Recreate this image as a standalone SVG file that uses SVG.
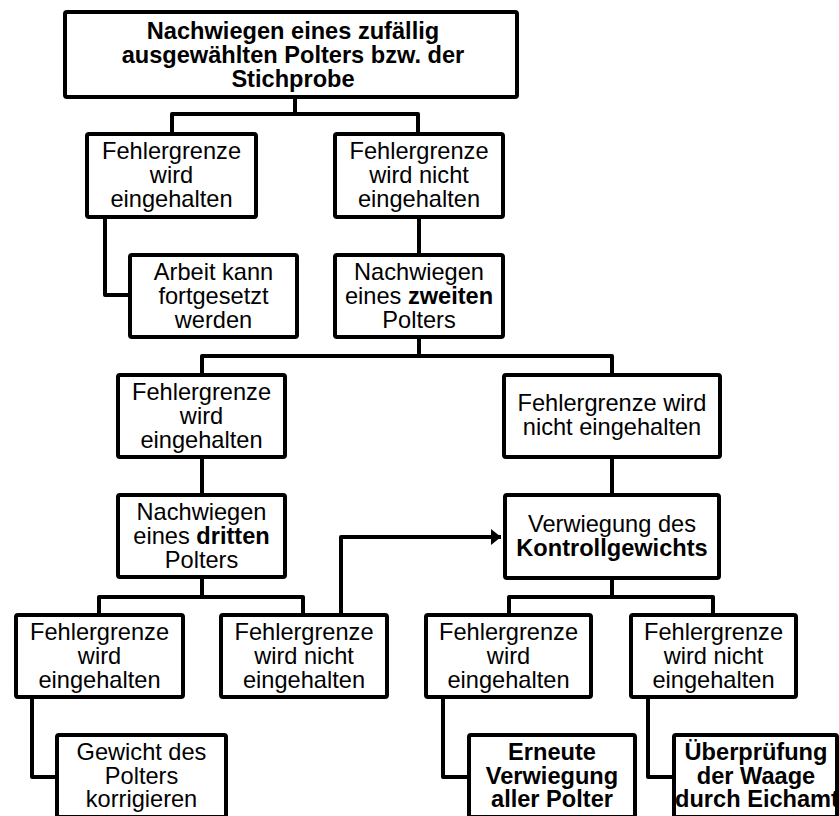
<svg xmlns="http://www.w3.org/2000/svg" width="839" height="816" viewBox="0 0 839 816">
<style>
  .box { fill: #ffffff; stroke: #000000; stroke-width: 4; }
  .t { font-family: "Liberation Sans", Arial, sans-serif; font-size: 23.6px; fill: #000000; text-anchor: middle; }
  .b { font-weight: bold; }
  .conn { fill: none; stroke: #000000; stroke-width: 4; stroke-linejoin: round; }
</style>
<defs>
  <marker id="arrow" markerUnits="userSpaceOnUse" markerWidth="12" markerHeight="18" refX="10" refY="8" orient="auto">
    <path d="M0,0 L10,8 L0,16 Z" fill="#000000"/>
  </marker>
</defs>
<rect x="0" y="0" width="839" height="816" fill="#ffffff"/>

<g id="connectors">
  <path class="conn" d="M295,98 V114 M172,133 V114 H418 V133"/>
  <path class="conn" d="M105,219 V295 H129"/>
  <path class="conn" d="M419,219 V254"/>
  <path class="conn" d="M419,339 V356 M202,374 V356 H612 V374"/>
  <path class="conn" d="M202,459 V494"/>
  <path class="conn" d="M612,459 V494"/>
  <path class="conn" d="M202,579 V597 M99,614 V597 H303 V614"/>
  <path class="conn" d="M612,579 V597 M509,614 V597 H713 V614"/>
  <path class="conn" d="M32,699 V777 H56"/>
  <path class="conn" d="M443,699 V777 H468"/>
  <path class="conn" d="M648,699 V777 H673"/>
  <path class="conn" d="M341,614 V537 H501" marker-end="url(#arrow)"/>
</g>

<g id="n_start">
  <rect class="box" x="65" y="12" width="452" height="85" rx="2"/>
  <text class="t b" x="293" y="39.3">Nachwiegen eines zufällig</text>
  <text class="t b" x="293" y="63.3">ausgewählten Polters bzw. der</text>
  <text class="t b" x="293" y="87.3">Stichprobe</text>
</g>

<g id="n_l2_ok">
  <rect class="box" x="87" y="134" width="169" height="83" rx="2"/>
  <text class="t" x="171.5" y="159.3">Fehlergrenze</text>
  <text class="t" x="171.5" y="183.3">wird</text>
  <text class="t" x="171.5" y="207.3">eingehalten</text>
</g>

<g id="n_l2_nok">
  <rect class="box" x="335" y="134" width="168" height="83" rx="2"/>
  <text class="t" x="419" y="159.3">Fehlergrenze</text>
  <text class="t" x="419" y="183.3">wird nicht</text>
  <text class="t" x="419" y="207.3">eingehalten</text>
</g>

<g id="n_arbeit">
  <rect class="box" x="130" y="255" width="167" height="82" rx="2"/>
  <text class="t" x="213.5" y="280">Arbeit kann</text>
  <text class="t" x="213.5" y="304">fortgesetzt</text>
  <text class="t" x="213.5" y="328">werden</text>
</g>

<g id="n_zweiten">
  <rect class="box" x="335" y="255" width="168" height="82" rx="2"/>
  <text class="t" x="419" y="280">Nachwiegen</text>
  <text class="t" x="419" y="304">eines <tspan class="b">zweiten</tspan></text>
  <text class="t" x="419" y="328">Polters</text>
</g>

<g id="n_l3_ok">
  <rect class="box" x="118" y="375" width="167" height="82" rx="2"/>
  <text class="t" x="201.5" y="400">Fehlergrenze</text>
  <text class="t" x="201.5" y="424">wird</text>
  <text class="t" x="201.5" y="448">eingehalten</text>
</g>

<g id="n_l3_nok">
  <rect class="box" x="504" y="375" width="216" height="82" rx="2"/>
  <text class="t" x="612" y="411">Fehlergrenze wird</text>
  <text class="t" x="612" y="435">nicht eingehalten</text>
</g>

<g id="n_dritten">
  <rect class="box" x="118" y="495" width="167" height="82" rx="2"/>
  <text class="t" x="201.5" y="520">Nachwiegen</text>
  <text class="t" x="201.5" y="544">eines <tspan class="b">dritten</tspan></text>
  <text class="t" x="201.5" y="568">Polters</text>
</g>

<g id="n_kontroll">
  <rect class="box" x="505" y="495" width="214" height="83" rx="2"/>
  <text class="t" x="612" y="532">Verwiegung des</text>
  <text class="t b" x="612" y="555.5">Kontrollgewichts</text>
</g>

<g id="n_l4_ok">
  <rect class="box" x="16" y="615" width="167" height="82" rx="2"/>
  <text class="t" x="99.5" y="640">Fehlergrenze</text>
  <text class="t" x="99.5" y="664">wird</text>
  <text class="t" x="99.5" y="688">eingehalten</text>
</g>

<g id="n_l4_nok">
  <rect class="box" x="221" y="615" width="166" height="82" rx="2"/>
  <text class="t" x="304" y="640">Fehlergrenze</text>
  <text class="t" x="304" y="664">wird nicht</text>
  <text class="t" x="304" y="688">eingehalten</text>
</g>

<g id="n_k_ok">
  <rect class="box" x="426" y="615" width="165" height="82" rx="2"/>
  <text class="t" x="508.5" y="640">Fehlergrenze</text>
  <text class="t" x="508.5" y="664">wird</text>
  <text class="t" x="508.5" y="688">eingehalten</text>
</g>

<g id="n_k_nok">
  <rect class="box" x="631" y="615" width="165" height="82" rx="2"/>
  <text class="t" x="713.5" y="640">Fehlergrenze</text>
  <text class="t" x="713.5" y="664">wird nicht</text>
  <text class="t" x="713.5" y="688">eingehalten</text>
</g>

<g id="n_gewicht">
  <rect class="box" x="57" y="735" width="169" height="82" rx="2"/>
  <text class="t" x="141.5" y="760">Gewicht des</text>
  <text class="t" x="141.5" y="783.5">Polters</text>
  <text class="t" x="141.5" y="807">korrigieren</text>
</g>

<g id="n_erneute">
  <rect class="box" x="469" y="735" width="166" height="82" rx="2"/>
  <text class="t b" x="552" y="760">Erneute</text>
  <text class="t b" x="552" y="783.5">Verwiegung</text>
  <text class="t b" x="552" y="807">aller Polter</text>
</g>

<g id="n_eichamt">
  <rect class="box" x="674" y="735" width="163" height="82" rx="2"/>
  <text class="t b" x="756" y="760">Überprüfung</text>
  <text class="t b" x="756" y="783.5">der Waage</text>
  <text class="t b" x="757" y="807">durch Eichamt</text>
</g>
</svg>
